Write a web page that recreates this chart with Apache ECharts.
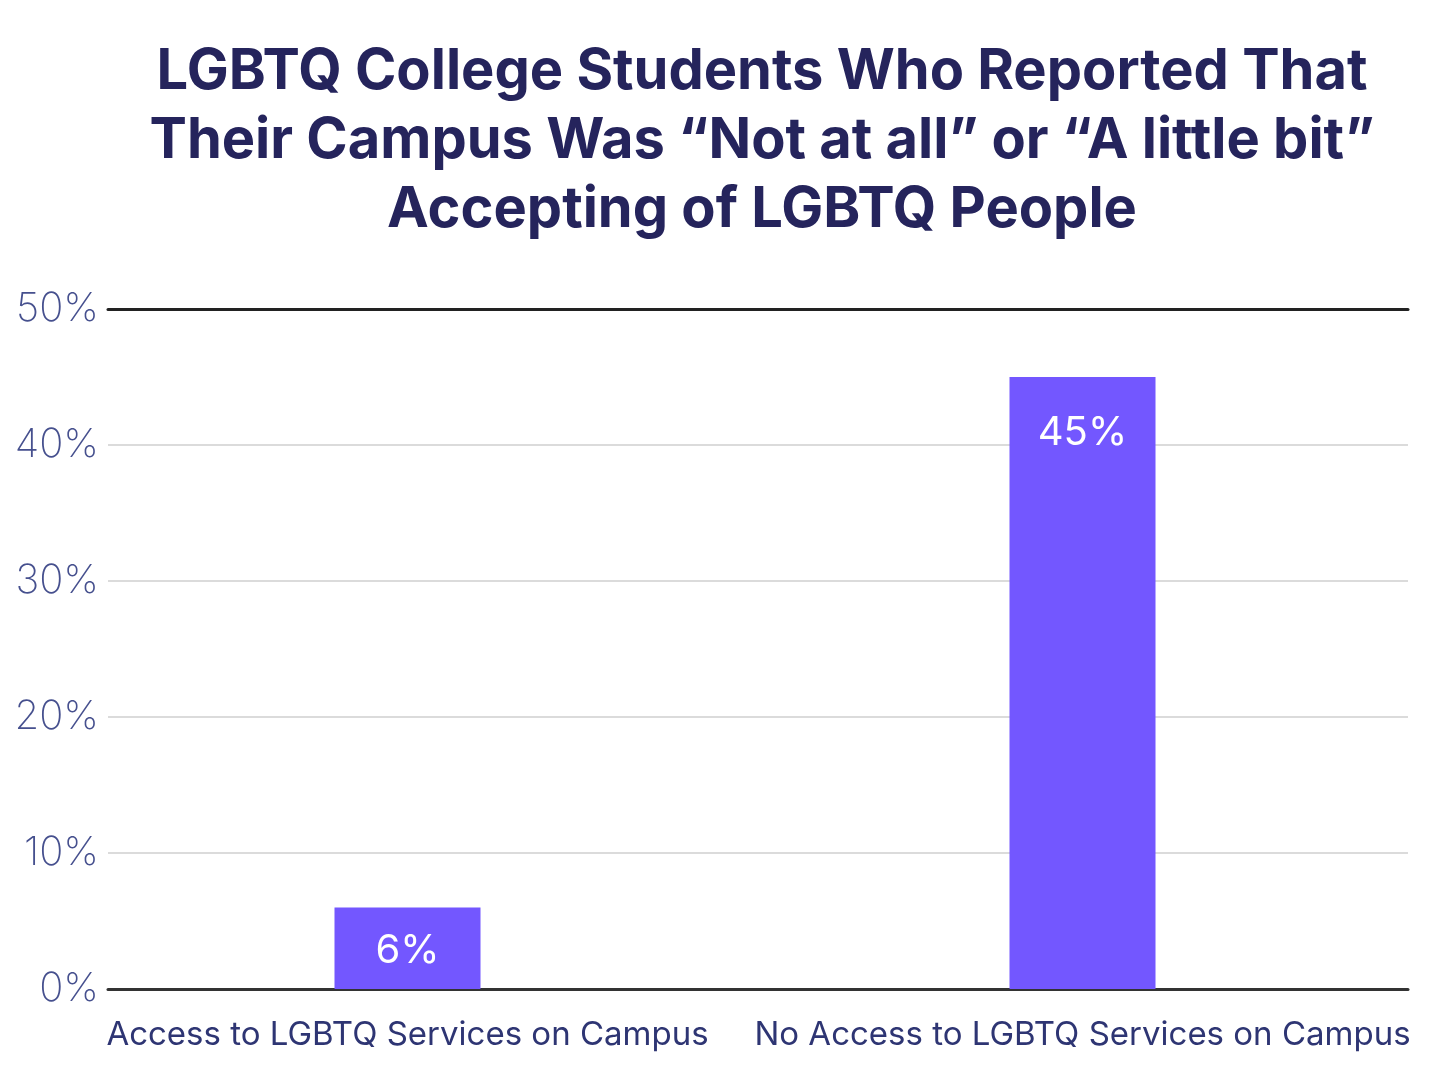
<!DOCTYPE html>
<html>
<head>
<meta charset="utf-8">
<script src="https://cdn.jsdelivr.net/npm/echarts@6/dist/echarts.min.js"></script>
<style>
html,body{margin:0;padding:0;background:#fff;}
#chart{width:1440px;height:1080px;}
</style>
</head>
<body>
<div id="chart"></div>
<script>
const titleText = "LGBTQ College Students Who Reported That\nTheir Campus Was \u201cNot at all\u201d or \u201cA little bit\u201d\nAccepting of LGBTQ People";
const categories = ["Access to LGBTQ Services on Campus", "No Access to LGBTQ Services on Campus"];
const values = [6, 45];
const yTicks = [0, 10, 20, 30, 40, 50];

const chart = echarts.init(document.getElementById('chart'));
const font = "Inter, 'Noto Sans', sans-serif";
const option = {
  backgroundColor: '#fff',
  title: {
    text: titleText,
    left: 757,
    top: 33,
    textAlign: 'center',
    textStyle: {
      fontFamily: font,
      fontSize: 56,
      fontWeight: 700,
      color: '#25245c',
      lineHeight: 69
    }
  },
  grid: [
    {left: 70, right: 20, top: 309, bottom: 91},
    {left: 108, right: 32, top: 309, bottom: 91}
  ],
  xAxis: [
    {
      type: 'category', gridIndex: 0, data: categories,
      axisLine: {show: false}, axisTick: {show: false},
      axisLabel: {interval: 0, fontFamily: font, fontSize: 33, fontWeight: 400, color: '#2e3573', margin: 30}
    },
    {
      type: 'value', gridIndex: 1, position: 'bottom', min: 0, max: 1,
      axisLine: {show: true, onZero: false, lineStyle: {color: '#333', width: 3}},
      axisTick: {show: false}, axisLabel: {show: false}, splitLine: {show: false}
    },
    {
      type: 'value', gridIndex: 1, position: 'top', min: 0, max: 1,
      axisLine: {show: true, onZero: false, lineStyle: {color: '#222', width: 3}},
      axisTick: {show: false}, axisLabel: {show: false}, splitLine: {show: false}
    }
  ],
  yAxis: [
    {
      type: 'value', gridIndex: 0, min: yTicks[0], max: yTicks[yTicks.length - 1], interval: 10,
      show: false, splitLine: {show: false}
    },
    {
      type: 'value', gridIndex: 1, min: yTicks[0], max: yTicks[yTicks.length - 1], interval: 10,
      axisLine: {show: false}, axisTick: {show: false},
      axisLabel: {formatter: '{value}%', fontFamily: font, fontSize: 40, fontWeight: 200, color: '#46508e', margin: 9},
      splitLine: {show: true, lineStyle: {color: '#cfcfcf', width: 1.5}}
    }
  ],
  series: [
    {
      type: 'bar', xAxisIndex: 0, yAxisIndex: 0,
      barWidth: 146,
      itemStyle: {color: '#7357ff'},
      data: values.map(v => ({
        value: v,
        label: v < 10 ? {position: 'inside', offset: [0, 3]} : {}
      })),
      label: {
        show: true, position: 'insideTop', distance: 36,
        formatter: '{c}%', color: '#fff', fontFamily: font, fontSize: 40, fontWeight: 400
      },
      z: 3
    }
  ]
};
chart.setOption(option);
</script>
</body>
</html>
